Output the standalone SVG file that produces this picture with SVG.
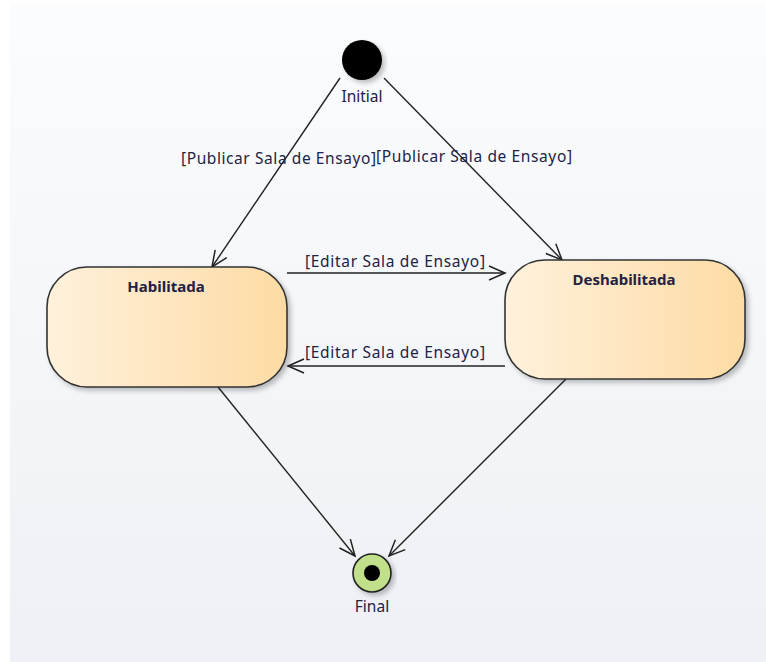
<svg xmlns="http://www.w3.org/2000/svg" width="766" height="662" viewBox="0 0 766 662">
<defs>
<linearGradient id="bg" x1="0" y1="0" x2="0" y2="1">
<stop offset="0" stop-color="#fbfcfd"/>
<stop offset="1" stop-color="#eef0f5"/>
</linearGradient>
<linearGradient id="st" x1="0" y1="0" x2="1" y2="0">
<stop offset="0" stop-color="#fff1dc"/>
<stop offset="1" stop-color="#fddba4"/>
</linearGradient>
<filter id="sh" x="-10%" y="-10%" width="125%" height="130%">
<feGaussianBlur in="SourceAlpha" stdDeviation="2.5"/>
<feOffset dx="3" dy="3"/>
<feComponentTransfer><feFuncA type="linear" slope="0.25"/></feComponentTransfer>
<feMerge><feMergeNode/><feMergeNode in="SourceGraphic"/></feMerge>
</filter>
<marker id="arr" viewBox="0 0 20 20" refX="18" refY="10" markerWidth="20" markerHeight="20" markerUnits="userSpaceOnUse" orient="auto">
<path d="M2,3 L18,10 L2,17" fill="none" stroke="#222" stroke-width="1.5"/>
</marker>
</defs>
<style>
text{font-family:"Noto Sans","Open Sans","Liberation Sans",sans-serif;fill:#222244;}
.lbl{font-size:15.5px;}
.nm{font-size:15px;font-weight:bold;}
.edge{fill:none;stroke:#222;stroke-width:1.4;marker-end:url(#arr);}
.state{fill:url(#st);stroke:#333;stroke-width:1.6;filter:url(#sh);}
</style>
<rect x="0" y="0" width="766" height="662" fill="#ffffff"/>
<rect x="10" y="3" width="756" height="659" fill="url(#bg)"/>
<g id="connectors">
<line class="edge" x1="340" y1="78" x2="212" y2="267"/>
<line class="edge" x1="384" y1="78" x2="562" y2="260"/>
<line class="edge" x1="287" y1="273" x2="505" y2="273"/>
<line class="edge" x1="505" y1="366" x2="288" y2="366"/>
<line class="edge" x1="218" y1="387" x2="355" y2="556"/>
<line class="edge" x1="566" y1="379" x2="389" y2="556"/>
<text class="lbl" x="181" y="164" textLength="195" lengthAdjust="spacing">[Publicar Sala de Ensayo]</text>
<text class="lbl" x="376" y="162" textLength="196" lengthAdjust="spacing">[Publicar Sala de Ensayo]</text>
<text class="lbl" x="305" y="267" textLength="180" lengthAdjust="spacing">[Editar Sala de Ensayo]</text>
<text class="lbl" x="305" y="358" textLength="180" lengthAdjust="spacing">[Editar Sala de Ensayo]</text>
</g>
<g id="initial">
<circle cx="362" cy="60" r="20" fill="#000" filter="url(#sh)"/>
<text class="lbl" x="362" y="102" text-anchor="middle">Initial</text>
</g>
<g id="habilitada">
<rect class="state" x="47" y="267" width="240" height="120" rx="40" ry="40"/>
<text class="nm" x="166" y="292" text-anchor="middle">Habilitada</text>
</g>
<g id="deshabilitada">
<rect class="state" x="505" y="260" width="240" height="119" rx="40" ry="40"/>
<text class="nm" x="624" y="285" text-anchor="middle">Deshabilitada</text>
</g>
<g id="final">
<circle cx="372" cy="573" r="19" fill="#c2e08c" stroke="#222" stroke-width="1.6" filter="url(#sh)"/>
<circle cx="372" cy="573" r="8" fill="#000"/>
<text class="lbl" x="372" y="612" text-anchor="middle">Final</text>
</g>
</svg>
